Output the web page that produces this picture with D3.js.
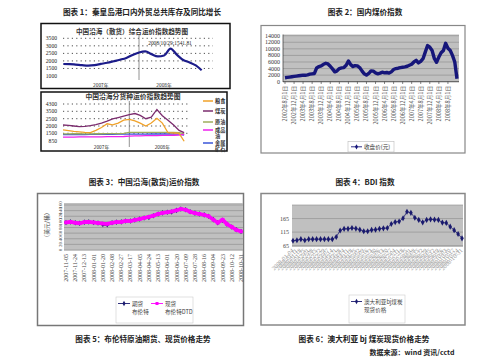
<!DOCTYPE html>
<html><head><meta charset="utf-8">
<script src="https://cdn.jsdelivr.net/npm/d3@7/dist/d3.min.js"></script>
<style>body{margin:0;background:#fff;}svg{display:block;}</style>
</head><body>
<svg id="c" width="499" height="364"></svg>
<script>
// ================= DATA =================
const titleTexts = ["图表 1：秦皇岛港口内外贸总共库存及同比增长","图表 2：国内煤价指数","图表 3：中国沿海(散货)运价指数","图表 4：BDI 指数","图表 5：布伦特原油期货、现货价格走势","图表 6：澳大利亚 bj 煤炭现货价格走势","数据来源：wind 资讯/cctd"];

// Chart A (中国沿海（散货）综合运价指数趋势图)
const aTitle = "中国沿海（散货）综合运价指数趋势图";
const aDates = ["2007-01-01","2007-02-01","2007-03-01","2007-04-01","2007-05-01","2007-06-01","2007-07-01","2007-08-01","2007-09-01","2007-10-01","2007-11-01","2007-12-01","2008-01-01","2008-02-01","2008-03-01","2008-04-01","2008-05-01","2008-06-01","2008-07-01","2008-08-01","2008-09-01","2008-10-01","2008-10-29"];
const aValues = [1796,1790,1760,1720,1690,1720,1800,1880,1980,2080,2200,2400,2560,2630,2450,2300,2360,2820,2420,2060,1900,1700,1380];
const aTicks = [1000,1500,2000,2500,3000,3500];
const aYearLabels = ["2007年","2008年"];
const aYearDates = ["2007-07-01","2008-05-01"];
const aNote = "2008/10/29:1541.81";

// Chart B (中国沿海分货种运价指数趋势图)
const bTitle = "中国沿海分货种运价指数趋势图";
const bNames = ["粮食","煤炭","原油","成品油","金属矿石"];
const bDates = aDates;
const bGrain  = [1730,1680,1630,1600,1560,1550,1700,1900,2150,2080,2200,2400,2450,2350,2200,2000,2200,2550,2200,1540,1520,1500,800];
const bCoal   = [2070,2040,2000,1960,1970,2020,2100,2200,2330,2480,2650,2850,3050,3200,2950,2500,2700,3700,2900,2400,2070,1700,1550];
const bCrude  = [1450,1450,1460,1460,1450,1450,1460,1460,1470,1470,1480,1500,1560,1560,1560,1560,1560,1560,1560,1560,1560,1550,1480];
const bRefined= [1170,1170,1170,1180,1180,1180,1190,1190,1200,1200,1210,1220,1260,1270,1280,1290,1300,1300,1310,1320,1330,1350,1400];
const bMetal  = [1380,1380,1390,1390,1390,1400,1400,1400,1410,1410,1420,1420,1430,1430,1430,1430,1440,1440,1440,1440,1440,1430,1350];
const bTicks = [850,1500,2000,2500,3500,4300];
const bYearDates = ["2007-08-01","2008-07-01"];

// Chart 2 国内煤价指数 (monthly, 2002-08 .. 2008-12)
const c2Start = "2002-08-01";
const c2Values = [1200,1300,1400,1500,1600,1700,1800,1900,2000,1950,2100,2300,2400,2500,4200,4600,4800,5300,5600,5400,4700,3900,3000,3300,4000,4200,4300,5000,6300,5200,4600,4900,4800,4300,3300,2400,2000,2500,3300,3200,2700,2400,2600,2900,2700,2800,2600,3000,3700,4000,4100,4300,4400,4500,4700,5000,5300,6000,6500,5700,6200,7000,9000,11000,10500,9500,7000,5900,7500,8800,9500,11700,10200,9500,8000,6000,900];
const c2Ticks = [0,2000,4000,6000,8000,10000,12000,14000];
const c2Labels = ["2002-08-01","2002-12-01","2003-04-01","2003-08-01","2003-12-01","2004-04-01","2004-08-01","2004-12-01","2005-04-01","2005-08-01","2005-12-01","2006-04-01","2006-08-01","2006-12-01","2007-04-01","2007-08-01","2007-12-01","2008-04-01","2008-08-01"];
const c2Legend = "收盘价(元)";

// Chart 3 布伦特原油 期货 / 现货
const c3Dates = ["2007-11-05","2007-11-14","2007-11-24","2007-12-03","2007-12-13","2007-12-22","2008-01-01","2008-01-10","2008-01-20","2008-01-29","2008-02-08","2008-02-17","2008-02-27","2008-03-07","2008-03-17","2008-03-26","2008-04-05","2008-04-14","2008-04-24","2008-05-03","2008-05-13","2008-05-22","2008-06-01","2008-06-10","2008-06-20","2008-06-29","2008-07-09","2008-07-18","2008-07-28","2008-08-06","2008-08-16","2008-08-25","2008-09-04","2008-09-13","2008-09-23","2008-10-02","2008-10-12","2008-10-21","2008-10-31"];
const c3Spot    = [98,100,97,95,99,100,98,96,94,93,97,99,100,103,103,107,110,114,118,122,128,132,134,137,141,146,143,136,131,128,125,120,108,97,108,92,82,72,66];
const c3Futures = [98,100,97,95,99,100,98,96,91,90,97,99,100,103,103,107,110,114,116,122,128,132,134,135,141,146,143,136,131,128,125,120,108,97,106,92,82,72,66];
const c3Ticks = [0,20,40,60,80,100,120,140,160];
const c3Labels = ["2007-11-05","2007-11-24","2007-12-13","2008-01-01","2008-01-20","2008-02-08","2008-02-27","2008-03-17","2008-04-05","2008-04-24","2008-05-13","2008-06-01","2008-06-20","2008-07-09","2008-07-28","2008-08-16","2008-09-04","2008-09-23","2008-10-12","2008-10-31"];
const c3YTitle = "（美元/桶）";
const c3Legend = [["期货","布伦特"],["现货","布伦特DTD"]];

// Chart 4 澳大利亚bj煤炭现货价格 (weekly)
const c4Values = [83,85,89,85,89,89,89,89,89,89,89,97,121,127,127,130,128,124,118,118,123,124,127,129,130,145,152,154,166,190,186,168,160,151,160,162,161,160,150,149,135,122,108,92];
const c4Start = "2008-01-04";
const c4Ticks = [65,115,165];
const c4Legend = ["澳大利亚bj煤炭","现货价格"];

// ================= DRAW =================
const svg = d3.select("#c");
const CJK = "'Noto Sans CJK SC','Noto Sans',sans-serif";
const SERIF = "'Liberation Serif','DejaVu Serif',serif";
const P = d3.timeParse("%Y-%m-%d");
const fmt = d3.timeFormat("%Y-%m-%d");

// titles
const titlePos = [[142,15],[365,15],[144,184.5],[365,184.5],[143,341.5],[364,341.5],[412,354.5]];
titleTexts.forEach((t,i)=>{
  svg.append("text").attr("x",titlePos[i][0]).attr("y",titlePos[i][1])
    .attr("text-anchor","middle").attr("font-family",CJK).attr("font-weight","bold")
    .attr("font-size", i===6?7:7.6).attr("fill","#222").text(t);
});

function frame(x,y,w,h,stroke,sw){
  svg.append("rect").attr("x",x).attr("y",y).attr("width",w).attr("height",h)
    .attr("fill","#fff").attr("stroke",stroke).attr("stroke-width",sw);
}

// ---------- Chart A ----------
frame(41,23.5,189,65,"#111",1.5);
svg.append("text").attr("x",132).attr("y",33.5).attr("text-anchor","middle")
  .attr("font-family",CJK).attr("font-weight","bold").attr("font-size",6.6).attr("fill","#333").text(aTitle);
const xA = d3.scaleTime().domain([P("2007-01-01"),P("2008-01-01")]).range([63.3,139]);
const yA = d3.scaleLinear().domain([1000,3500]).range([76,38.3]);
const gA = svg.append("g");
aTicks.forEach(t=>{
  if(t>1000) gA.append("line").attr("x1",63).attr("x2",213).attr("y1",yA(t)).attr("y2",yA(t))
    .attr("stroke","#222").attr("stroke-width",0.8).attr("stroke-dasharray","1.2,3.2");
  gA.append("text").attr("x",57).attr("y",yA(t)+2).attr("text-anchor","end")
    .attr("font-family",SERIF).attr("font-size",5.6).attr("fill","#222").text(t);
});
gA.append("line").attr("x1",xA(P("2008-01-01"))).attr("x2",xA(P("2008-01-01"))).attr("y1",35).attr("y2",80)
  .attr("stroke","#777").attr("stroke-width",0.8);
gA.append("path").datum(aDates.map((d,i)=>[P(d),aValues[i]]))
  .attr("d",d3.line().x(d=>xA(d[0])).y(d=>yA(d[1])).curve(d3.curveMonotoneX))
  .attr("fill","none").attr("stroke","#1c1c8a").attr("stroke-width",2.2);
gA.append("text").attr("x",170).attr("y",45).attr("text-anchor","middle")
  .attr("font-family",SERIF).attr("font-size",5.4).attr("fill","#222").text(aNote);
aYearLabels.forEach((t,i)=>gA.append("text").attr("x",xA(P(aYearDates[i]))).attr("y",86.5)
  .attr("text-anchor","middle").attr("font-family",CJK).attr("font-size",4.8).attr("fill","#222").text(t));

// ---------- Chart B ----------
frame(41,92,186,59,"#111",1.5);
svg.append("text").attr("x",133).attr("y",99).attr("text-anchor","middle")
  .attr("font-family",CJK).attr("font-weight","bold").attr("font-size",6.8).attr("fill","#333").text(bTitle);
const xB = d3.scaleTime().domain([P("2007-01-01"),P("2008-01-01")]).range([63,129.3]);
const yB = d3.scaleLinear().domain(bTicks).range([140.7,133.3,126,118.7,111.3,104]);
const gB = svg.append("g");
bTicks.forEach(t=>{
  if(t>850) gB.append("line").attr("x1",63).attr("x2",190).attr("y1",yB(t)).attr("y2",yB(t))
    .attr("stroke","#222").attr("stroke-width",0.8).attr("stroke-dasharray","1.2,3.2");
  gB.append("text").attr("x",57).attr("y",yB(t)+2).attr("text-anchor","end")
    .attr("font-family",SERIF).attr("font-size",5.6).attr("fill","#222").text(t);
});
gB.append("line").attr("x1",xB(P("2008-01-01"))).attr("x2",xB(P("2008-01-01"))).attr("y1",101).attr("y2",147)
  .attr("stroke","#777").attr("stroke-width",0.8);
const bSeries = [bGrain,bCoal,bCrude,bRefined,bMetal];
const bColors = ["#f0a22a","#7b2c6e","#9fae5c","#ee22ee","#3a56d8"];
const drawOrder = [4,2,3,0,1];
drawOrder.forEach(k=>{
  gB.append("path").datum(bDates.map((d,i)=>[P(d),bSeries[k][i]]))
    .attr("d",d3.line().x(d=>xB(d[0])).y(d=>yB(d[1])))
    .attr("fill","none").attr("stroke",bColors[k]).attr("stroke-width",1.3);
});
aYearLabels.forEach((t,i)=>gB.append("text").attr("x",xB(P(bYearDates[i]))).attr("y",148.5)
  .attr("text-anchor","middle").attr("font-family",CJK).attr("font-size",4.8).attr("fill","#222").text(t));
// legend B
const bLegY = [101,111,122,130,143];
bNames.forEach((n,i)=>{
  gB.append("line").attr("x1",203).attr("x2",213).attr("y1",bLegY[i]).attr("y2",bLegY[i])
    .attr("stroke",bColors[i]).attr("stroke-width",1.5);
  const lines = n.length>2 ? [n.slice(0,2),n.slice(2)] : [n];
  lines.forEach((s,j)=>gB.append("text").attr("x",215).attr("y",bLegY[i]+2+j*6)
    .attr("font-family",CJK).attr("font-weight","bold").attr("font-size",5.2).attr("fill","#333").text(s));
});

// ---------- Chart 2 ----------
frame(261,25.5,204,127.5,"#888",1.2);
const x2 = d3.scaleTime().domain([P("2002-08-01"),P("2008-12-01")]).range([285,457]);
const y2 = d3.scaleLinear().domain([0,14000]).range([81.7,35.7]);
const c2Dates = c2Values.map((v,i)=>d3.timeMonth.offset(P(c2Start),i));
svg.append("rect").attr("x",283).attr("y",34.5).attr("width",176).attr("height",47.2).attr("fill","#c0c0c0");
const g2 = svg.append("g");
c2Ticks.forEach(t=>{
  g2.append("line").attr("x1",283).attr("x2",459).attr("y1",y2(t)).attr("y2",y2(t))
    .attr("stroke","#8a8a8a").attr("stroke-width",0.6);
  g2.append("text").attr("x",280).attr("y",y2(t)+2).attr("text-anchor","end")
    .attr("font-family",SERIF).attr("font-size",6).attr("fill","#333").text(t);
});
g2.append("line").attr("x1",283).attr("x2",283).attr("y1",34.5).attr("y2",82).attr("stroke","#333").attr("stroke-width",0.7);
g2.append("line").attr("x1",283).attr("x2",459).attr("y1",81.7).attr("y2",81.7).attr("stroke","#333").attr("stroke-width",0.7);
c2Labels.forEach(l=>{
  const x = x2(P(l)), d = P(l);
  g2.append("line").attr("x1",x).attr("x2",x).attr("y1",81.7).attr("y2",84).attr("stroke","#333").attr("stroke-width",0.6);
  g2.append("text").attr("transform",`translate(${x+2},${86}) rotate(-90)`).attr("text-anchor","end")
    .attr("font-family",CJK).attr("font-size",5.6).attr("fill","#555")
    .text(`${d.getFullYear()}年${d.getMonth()+1}月${d.getDate()}日`);
});
g2.append("path").datum(c2Values.map((v,i)=>[c2Dates[i],v]))
  .attr("d",d3.line().x(d=>x2(d[0])).y(d=>y2(d[1])))
  .attr("fill","none").attr("stroke","#16167a").attr("stroke-width",3.4).attr("stroke-linejoin","round");
// legend 2
g2.append("rect").attr("x",348).attr("y",141.5).attr("width",46).attr("height",10.5).attr("fill","#fff").attr("stroke","#bbb").attr("stroke-width",0.6);
g2.append("line").attr("x1",351).attr("x2",362).attr("y1",146.8).attr("y2",146.8).attr("stroke","#16167a").attr("stroke-width",0.9);
g2.append("path").attr("d",d3.symbol(d3.symbolDiamond,8)()).attr("transform","translate(356.5,146.8)").attr("fill","#16167a");
g2.append("text").attr("x",364).attr("y",149).attr("font-family",CJK).attr("font-size",5.6).attr("fill","#333").text(c2Legend);

// ---------- Chart 3 ----------
frame(37.5,193.5,206,132,"#777",1.5);
const x3 = d3.scaleTime().domain([P("2007-11-05"),P("2008-10-31")]).range([66,241]);
const y3 = d3.scaleLinear().domain([0,160]).range([250,205]);
svg.append("rect").attr("x",64).attr("y",203).attr("width",179).attr("height",47.5).attr("fill","#c0c0c0");
const g3 = svg.append("g");
c3Ticks.forEach(t=>{
  g3.append("line").attr("x1",64).attr("x2",243).attr("y1",y3(t)).attr("y2",y3(t)).attr("stroke","#8a8a8a").attr("stroke-width",0.6);
  g3.append("text").attr("transform",`translate(${62},${y3(t)}) rotate(-90)`).attr("text-anchor","middle")
    .attr("font-family",SERIF).attr("font-size",5).attr("fill","#444").text(t);
});
g3.append("text").attr("transform","translate(49,225) rotate(-90)").attr("text-anchor","middle")
  .attr("font-family",CJK).attr("font-size",5.8).attr("fill","#444").text(c3YTitle);
c3Labels.forEach(l=>{
  const x = x3(P(l));
  g3.append("text").attr("transform",`translate(${x+2},${254}) rotate(-90)`).attr("text-anchor","end")
    .attr("font-family",SERIF).attr("font-size",6).attr("fill","#444").text(l);
});
const fut = c3Dates.map((d,i)=>[P(d),c3Futures[i]]);
const spot = c3Dates.map((d,i)=>[P(d),c3Spot[i]]);
const line3 = d3.line().x(d=>x3(d[0])).y(d=>y3(d[1]));
g3.append("path").datum(fut).attr("d",line3).attr("fill","none").attr("stroke","#1a1a6e").attr("stroke-width",2.4);
g3.selectAll(".fd").data(fut).join("path").attr("d",d3.symbol(d3.symbolDiamond,9)())
  .attr("transform",d=>`translate(${x3(d[0])},${y3(d[1])})`).attr("fill","#1a1a6e");
g3.append("path").datum(spot).attr("d",line3).attr("fill","none").attr("stroke","#ff00ff").attr("stroke-width",3.6).attr("stroke-linejoin","round");
g3.selectAll(".sd").data(spot).join("rect").attr("x",d=>x3(d[0])-1.8).attr("y",d=>y3(d[1])-1.8)
  .attr("width",3.6).attr("height",3.6).attr("fill","#ff00ff");
// legend 3
g3.append("rect").attr("x",116).attr("y",297).attr("width",77).attr("height",26).attr("fill","#fff").attr("stroke","#ccc").attr("stroke-width",0.6);
g3.append("line").attr("x1",118).attr("x2",130).attr("y1",303.5).attr("y2",303.5).attr("stroke","#1a1a6e").attr("stroke-width",0.9);
g3.append("path").attr("d",d3.symbol(d3.symbolDiamond,8)()).attr("transform","translate(124,303.5)").attr("fill","#1a1a6e");
g3.append("line").attr("x1",151).attr("x2",163).attr("y1",303.5).attr("y2",303.5).attr("stroke","#ff00ff").attr("stroke-width",0.9);
g3.append("rect").attr("x",155.5).attr("y",302).attr("width",3).attr("height",3).attr("fill","#ff00ff");
c3Legend.forEach((pair,i)=>{
  const lx = i===0?132:165;
  pair.forEach((s,j)=>g3.append("text").attr("x",lx).attr("y",305.5+j*8)
    .attr("font-family",CJK).attr("font-size",5.6).attr("fill","#444").text(s));
});

// ---------- Chart 4 ----------
frame(261,193.5,204,131.5,"#888",1.5);
const c4Dates = c4Values.map((v,i)=>fmt(d3.timeWeek.offset(P(c4Start),i)));
const x4 = d3.scalePoint().domain(c4Dates).range([293,462]);
const y4 = d3.scaleLinear().domain([60,215]).range([247,205]);
svg.append("rect").attr("x",292).attr("y",205).attr("width",171).attr("height",42).attr("fill","#c0c0c0");
const g4 = svg.append("g");
[65,115,165,215].forEach(t=>g4.append("line").attr("x1",292).attr("x2",463).attr("y1",y4(t)).attr("y2",y4(t)).attr("stroke","#8a8a8a").attr("stroke-width",0.6));
c4Ticks.forEach(t=>g4.append("text").attr("x",289).attr("y",y4(t)+2).attr("text-anchor","end")
  .attr("font-family",SERIF).attr("font-size",6).attr("fill","#444").text(t));
c4Dates.forEach(d=>{
  g4.append("text").attr("transform",`translate(${x4(d)+1},${251}) rotate(-45)`).attr("text-anchor","end")
    .attr("font-family",SERIF).attr("font-size",6).attr("fill","#999").text(d);
});
const pts4 = c4Dates.map((d,i)=>[d,c4Values[i]]);
g4.append("path").datum(pts4).attr("d",d3.line().x(d=>x4(d[0])).y(d=>y4(d[1])))
  .attr("fill","none").attr("stroke","#1a1a6e").attr("stroke-width",0.8);
g4.selectAll(".p4").data(pts4).join("path").attr("d",d3.symbol(d3.symbolDiamond,11)())
  .attr("transform",d=>`translate(${x4(d[0])},${y4(d[1])})`).attr("fill","#1a1a6e");
// legend 4
g4.append("rect").attr("x",349).attr("y",295).attr("width",56).attr("height",28).attr("fill","#fff").attr("stroke","#ccc").attr("stroke-width",0.6);
g4.append("line").attr("x1",351).attr("x2",362).attr("y1",301.5).attr("y2",301.5).attr("stroke","#1a1a6e").attr("stroke-width",0.9);
g4.append("path").attr("d",d3.symbol(d3.symbolDiamond,8)()).attr("transform","translate(356.5,301.5)").attr("fill","#1a1a6e");
c4Legend.forEach((s,j)=>g4.append("text").attr("x",364).attr("y",303.5+j*8.5)
  .attr("font-family",CJK).attr("font-size",5.6).attr("fill","#444").text(s));
</script>
</body></html>
